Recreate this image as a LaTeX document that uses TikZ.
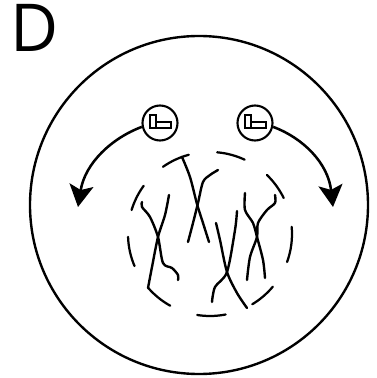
\documentclass[tikz,border=0pt]{standalone}
\usepackage{fontspec}
\setmainfont{Open Sans}
\usepackage{tikz}
\usetikzlibrary{arrows.meta, calc}

\begin{document}
\begin{tikzpicture}[x=0.25mm, y=0.25mm,
    chromo/.style={line width=1.7pt, line cap=round, line join=round},
    envelope/.style={line width=1.6pt, line cap=round},
    centro/.style={circle, draw, line width=1.5pt, fill=white, minimum size=35*0.25mm, inner sep=0},
    spindle/.style={line width=1.8pt, -{Stealth[length=5.5mm, width=6mm, inset=1.2mm]}}]
  \useasboundingbox (0, 0) rectangle (377, 378);

  % panel letter
  \node[anchor=base west, inner sep=0, font=\fontsize{47}{47}\selectfont] (panel) at (10, 326) {D};

  % cell outline
  \draw[line width=1.7pt] (199, 173) circle (169);

  % centrosomes with their centriole pairs
  \node[centro] (cL) at (160, 255) {};
  \node[centro] (cR) at (255, 255) {};
  \foreach \c in {cL, cR} {
    \draw[line width=1pt, fill=white] ($(\c.center) + (-10, -5)$) rectangle ++(6, 13);
    \draw[line width=1pt, fill=white] ($(\c.center) + (-4, -5)$) rectangle ++(15, 6);
  }

  % spindle poles moving apart
  \coordinate (tipL) at (78, 171);
  \coordinate (tipR) at (333, 171);
  \draw[spindle] (cL.192) .. controls (112, 240) and (85, 215) .. (tipL);
  \draw[spindle] (cR.-12) .. controls (303, 240) and (328, 215) .. (tipR);

  % nuclear envelope breaking up
  \foreach \a/\b in {105/125, 65/85, 26/46, -20/5, -59/-40, -99/-79, -139/-119, 182/203, 144/163}
    \draw[envelope] ($(210, 144) + (\a:82)$) arc (\a:\b:82);

  % condensed chromosomes
  \draw[chromo] plot[smooth] coordinates {(182,221) (190,201) (197,174) (203,155) (209,136)};
  \draw[chromo] plot[smooth] coordinates {(218,208) (210,203) (203,196) (198,175) (193,155) (188,136)};

  \draw[chromo] plot[smooth] coordinates {(142,176) (142,171) (150,161) (158,141) (163,115) (172,110) (178,103) (178,98)};
  \draw[chromo] plot[smooth] coordinates {(169,183) (165,163) (158,141) (152,111) (148,90)};

  \draw[chromo] plot[smooth] coordinates {(216,155) (220,138) (227,106) (237,85) (247,70)};
  \draw[chromo] plot[smooth] coordinates {(237,167) (235,148) (227,106) (215,91) (212,76)};

  \draw[chromo] plot[smooth] coordinates {(245,185) (245,168) (253,155) (257,141) (263,118) (265,100)};
  \draw[chromo] plot[smooth] coordinates {(275,183) (275,175) (267,168) (258,155) (257,141) (250,121) (247,98)};
\end{tikzpicture}
\end{document}
